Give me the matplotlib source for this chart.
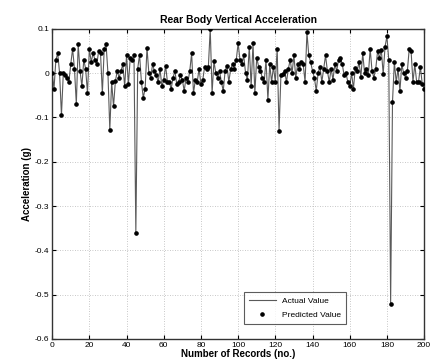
import matplotlib
matplotlib.use("Agg")
import matplotlib.pyplot as plt
import numpy as np

plt.rcParams['font.family'] = ['Liberation Sans', 'DejaVu Sans']

records = list(range(0, 201))
acceleration = [
    0.00, -0.035, 0.03, 0.045, 0.00, -0.095, 0.00, -0.003, -0.01, -0.02,
    0.02, 0.055, 0.01, -0.07, 0.065, 0.005, -0.03, 0.03, 0.01, -0.045,
    0.055, 0.025, 0.045, 0.03, 0.02, 0.05, 0.045, -0.045, 0.055, 0.065,
    0.00, -0.128, -0.02, -0.075, -0.018, 0.005, -0.01, 0.005, 0.02, -0.03,
    0.04, -0.025, 0.035, 0.03, 0.04, -0.36, 0.01, 0.042, -0.02, -0.055,
    -0.035, 0.057, 0.0, -0.01, 0.02, 0.005, -0.005, -0.02, 0.01, -0.03,
    -0.015, 0.017, -0.02, -0.02, -0.035, -0.01, 0.005, -0.025, -0.02, -0.005,
    -0.015, -0.04, -0.01, -0.02, 0.005, 0.045, -0.045, -0.015, -0.02, 0.01,
    -0.025, -0.015, 0.015, 0.01, 0.015, 0.1, -0.045, 0.027, 0.0, -0.01,
    0.005, -0.02, -0.04, 0.005, 0.017, -0.02, 0.01, 0.02, 0.01, 0.03,
    0.068, 0.03, 0.02, 0.04, 0.0, -0.015, 0.06, -0.03, 0.067, -0.045,
    0.035, 0.015, 0.005, -0.01, -0.02, 0.03, -0.06, 0.02, -0.02, 0.015,
    -0.02, 0.055, -0.13, -0.005, -0.002, 0.005, -0.02, 0.01, 0.03, 0.0,
    0.04, -0.01, 0.02, 0.01, 0.025, 0.02, -0.02, 0.092, 0.04, 0.025,
    0.005, -0.01, -0.04, 0.0, 0.015, -0.02, 0.01, 0.04, 0.005, -0.02,
    0.01, -0.015, 0.02, 0.005, 0.03, 0.035, 0.02, -0.005, 0.0, -0.02,
    -0.03, 0.0, -0.035, 0.012, 0.005, 0.025, -0.008, 0.045, 0.0, 0.01,
    -0.005, 0.055, 0.005, -0.01, 0.01, 0.05, 0.035, 0.052, -0.002, 0.06,
    0.083, 0.03, -0.52, -0.065, 0.025, -0.02, 0.01, -0.04, 0.02, 0.0,
    -0.01, 0.005, 0.055, 0.05, -0.02, 0.02, -0.02, -0.02, 0.015, -0.025,
    -0.035,
]
predicted = list(acceleration)

x_ticks = [0, 20, 40, 60, 80, 100, 120, 140, 160, 180, 200]
y_ticks = [0.1, 0, -0.1, -0.2, -0.3, -0.4, -0.5, -0.6]
y_tick_labels = ["0.1", "0", "-0.1", "-0.2", "-0.3", "-0.4", "-0.5", "-0.6"]

fig = plt.figure(figsize=(4.31, 3.61), dpi=100)
ax = fig.add_axes([0.121, 0.061, 0.863, 0.859])

ax.plot(records, acceleration, color='#5a5a5a', lw=0.8, label='Actual Value', zorder=2)
ax.plot(records, predicted, ls='none', marker='o', ms=2.3, color='black', label='Predicted Value', zorder=3)

ax.set_xlim(0, 200)
ax.set_ylim(-0.6, 0.1)
ax.set_xticks(x_ticks)
ax.set_yticks(y_ticks)
ax.set_yticklabels(y_tick_labels)
ax.tick_params(direction='in', labelsize=6, length=3, top=True, right=True, pad=2)
ax.grid(True, ls=(0, (1, 2)), color='#b5b5b5', lw=0.6)
for s in ax.spines.values():
    s.set_linewidth(1.0)
    s.set_color('#333333')

ax.set_title('Rear Body Vertical Acceleration', fontsize=7.5, fontweight='bold', pad=4)
ax.set_xlabel('Number of Records (no.)', fontsize=7, fontweight='bold', labelpad=0)
ax.set_ylabel('Acceleration (g)', fontsize=7, fontweight='bold', labelpad=2)

leg = ax.legend(loc='lower left', bbox_to_anchor=(0.505, 0.035), fontsize=6,
                frameon=True, fancybox=False, edgecolor='#333333', handlelength=3.2,
                borderpad=0.6, labelspacing=0.7, handletextpad=0.8)
leg.get_frame().set_linewidth(0.8)

fig.savefig('out.png', dpi=100)
